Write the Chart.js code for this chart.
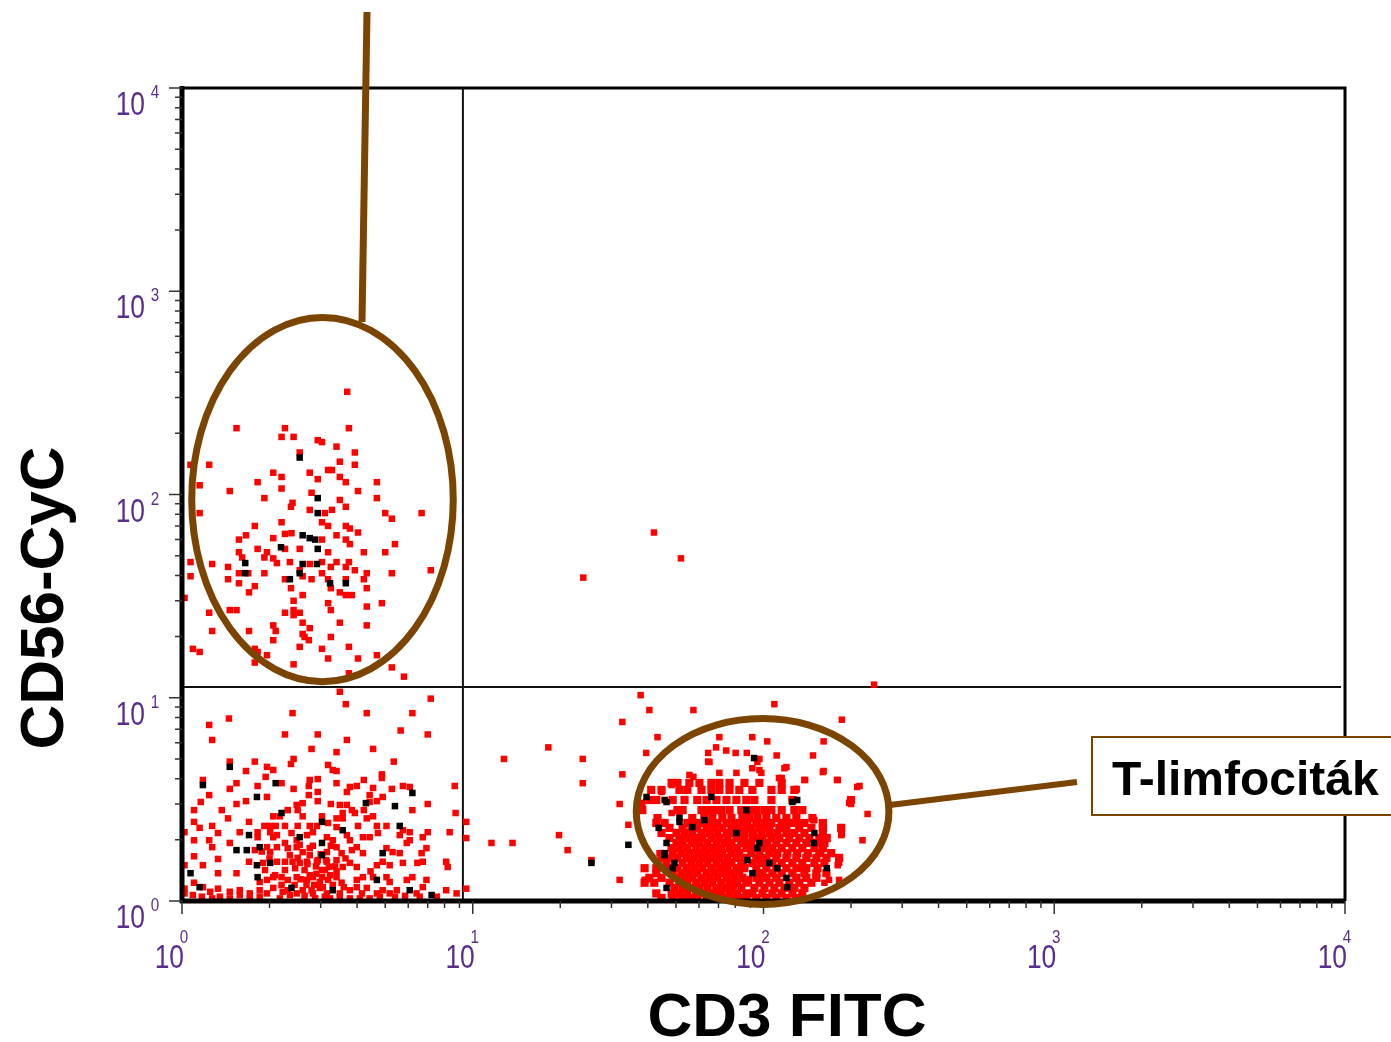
<!DOCTYPE html>
<html>
<head>
<meta charset="utf-8">
<script src="https://cdn.jsdelivr.net/npm/chart.js@4.4.1/dist/chart.umd.min.js"></script>
<style>
  html, body { margin: 0; padding: 0; background: #fff; }
  canvas { display: block; }
</style>
</head>
<body>
<canvas id="plot" width="1391" height="1042"></canvas>
<script>
// events: [CD3 FITC, CD56-CyC]
const nkCells = [
  [3.7,320],[1.54,212],[2.26,212],[3.75,212],[2.2,192],[2.42,192],[2.93,185],[3.03,181],[3.4,172],[3.93,161],
  [2.54,161],[3.49,145],[3.93,140],[1.24,140],[1.07,140],[2.06,128],[2.2,122],[2.75,128],[3.18,132],[3.28,132],
  [2.93,119],[3.49,122],[3.66,115],[4.68,115],[1.82,115],[1.15,111],[2.2,107],[1.46,104],[4.03,104],[2.79,102],
  [1.92,96],[4.68,96],[3.49,94],[2.4,91],[2.37,87],[2.75,84],[3.1,81],[3.28,84],[3.66,87],[1.15,81],
  [5.0,81],[5.27,76],[6.67,81],[3.03,73],[3.18,70],[2.2,73],[1.78,70],[3.66,70],[3.78,68],[4.03,65],
  [2.26,64],[2.38,64.5],[3.03,60],[2.06,61],[3.4,63],[1.66,63],[1.57,60],[3.66,60],[3.78,57],[2.26,54],
  [2.54,54],[3.18,52],[1.82,54],[1.96,52],[1.92,49],[1.57,52],[1.61,49],[4.22,52],[5.0,52],[5.4,57],
  [2.06,48.5],[2.12,46],[2.35,46.5],[2.75,45.5],[3.03,46.5],[3.4,46.5],[3.75,46.5],[1.07,46.5],[1.27,45.5],[1.44,44],
  [2.54,42.4],[3.25,44],[3.66,44],[3.93,42.4],[1.57,41],[1.69,41],[1.92,41],[2.6,39.6],[2.79,38.3],[3.03,41],
  [4.32,41],[4.22,38.3],[5.27,41],[7.17,42.4],[1.07,39.6],[1.44,38.3],[2.26,38.3],[3.18,38.3],[3.25,34.6],[3.66,38.3],
  [1.57,36.6],[1.78,35.4],[1.7,33],[2.37,34.6],[3.49,33],[3.66,32],[3.84,32],[4.32,34.6],[2.6,32],[1.02,31],
  [2.42,30],[3.18,29.2],[3.25,27],[4.87,29.2],[4.32,28.1],[1.24,26.2],[1.46,27],[1.54,27],[2.26,26.2],[2.42,27],
  [2.42,25.5],[2.54,26.2],[3.49,23.4],[2.6,23.4],[2.75,22],[2.06,22.7],[2.1,21.3],[4.32,22.7],[1.27,21.3],[1.7,21.3],
  [2.6,20.6],[2.64,19.9],[2.73,19.2],[3.25,19.9],[2.06,19.2],[2.54,17.8],[3.75,17.8],[1.09,17.4],[1.15,16.8],[1.78,17.4],
  [1.82,16.8],[3.03,17.4],[1.96,16.2],[3.18,15.6],[4.03,15.6],[4.68,16.2],[1.78,14.9],[2.42,14.6],[5.27,14.1],[3.75,13.2],
  [5.8,12.7]
];
const doublePos = [[42,65],[52,48.5],[24,39],[240,11.6]];
const doubleNeg = [
  [3.49,10.7],[3.66,9.3],[7.17,9.9],[2.4,8.4],[4.32,8.4],[6.2,8.4],[1.24,7.35],[1.45,7.9],[1.27,6.2],[2.26,6.6],
  [2.93,6.6],[3.69,6.2],[5.65,6.9],[7.0,6.6],[2.79,5.6],[3.4,5.4],[4.54,5.6],[1.46,4.85],[1.78,4.85],[2.42,5.0],
  [2.37,4.72],[3.18,4.67],[3.3,4.41],[3.4,4.36],[5.35,4.85],[1.66,4.36],[1.96,4.57],[2.06,4.41],[1.18,3.94],[1.54,3.8],
  [1.94,4.08],[2.2,3.8],[2.75,3.94],[2.93,3.98],[2.73,3.68],[3.4,3.8],[4.22,3.94],[4.87,4.2],[4.87,4.03],[1.82,3.68],
  [1.46,3.56],[1.24,3.32],[2.42,3.56],[2.93,3.44],[3.78,3.64],[3.99,3.68],[3.69,3.44],[4.54,3.6],[5.27,3.56],[5.75,3.68],
  [6.07,3.64],[8.67,3.68],[1.96,3.25],[2.73,3.32],[4.42,3.32],[4.9,3.25],[1.16,3.07],[1.54,3.0],[1.66,3.1],[2.48,2.97],
  [2.6,3.03],[2.93,3.1],[3.25,3.0],[3.49,2.97],[3.69,2.97],[4.42,3.07],[4.68,3.1],[7.0,3.0],[1.1,2.8],[1.37,2.8],
  [2.31,2.8],[2.5,2.8],[3.57,2.71],[3.84,2.8],[3.93,2.71],[4.22,2.8],[6.2,2.8],[8.73,2.71],[1.44,2.55],[2.06,2.61],
  [2.17,2.61],[2.6,2.61],[3.03,2.61],[3.4,2.55],[3.57,2.55],[4.32,2.55],[4.54,2.61],[1.1,2.45],[1.7,2.45],[1.92,2.34],
  [2.01,2.34],[2.1,2.34],[2.26,2.34],[2.5,2.34],[2.75,2.34],[2.91,2.34],[3.18,2.42],[3.4,2.31],[4.03,2.34],[4.68,2.34],
  [5.05,2.34],[5.75,2.23],[1.15,2.29],[1.27,2.34],[1.33,2.16],[1.58,2.18],[1.82,2.18],[1.82,2.06],[2.01,2.18],[2.06,2.06],
  [2.12,2.11],[2.38,2.16],[2.48,1.99],[2.69,2.11],[2.82,2.18],[3.15,2.06],[3.3,1.99],[3.69,2.11],[3.78,1.99],[4.19,2.06],
  [4.42,2.06],[4.72,2.16],[5.61,2.11],[6.07,2.18],[6.07,1.99],[6.73,2.06],[7.0,2.18],[8.33,2.18],[1.02,2.18],[1.1,1.99],
  [1.24,1.99],[1.46,1.93],[1.78,1.78],[1.96,1.84],[2.01,1.74],[2.12,1.84],[2.26,1.93],[2.31,1.82],[2.48,1.84],[2.6,1.74],
  [2.75,1.82],[3.15,1.74],[3.4,1.84],[3.54,1.72],[3.84,1.78],[3.99,1.84],[4.19,1.72],[5.05,1.82],[5.3,1.74],[6.67,1.72],
  [6.93,1.82],[5.93,1.93],[5.61,1.72],[1.27,1.84],[1.1,1.66],[1.33,1.61],[1.7,1.56],[1.9,1.54],[2.12,1.56],[2.26,1.56],
  [2.4,1.56],[2.54,1.54],[2.69,1.56],[2.91,1.56],[3.15,1.56],[3.4,1.59],[3.57,1.47],[3.78,1.54],[3.99,1.47],[4.68,1.5],
  [4.9,1.56],[5.18,1.5],[5.75,1.54],[6.45,1.54],[6.73,1.56],[8.1,1.56],[8.2,1.47],[1.02,1.5],[1.18,1.5],[1.54,1.37],
  [1.33,1.37],[1.85,1.24],[1.96,1.27],[2.06,1.31],[2.2,1.31],[2.31,1.27],[2.48,1.31],[2.69,1.27],[2.82,1.31],[3.03,1.31],
  [3.18,1.27],[3.4,1.31],[3.54,1.23],[3.99,1.27],[4.19,1.31],[4.54,1.31],[5.05,1.31],[5.18,1.24],[5.93,1.27],[6.2,1.31],
  [6.93,1.27],[1.1,1.23],[1.02,1.15],[1.18,1.17],[1.25,1.11],[1.33,1.15],[1.46,1.11],[1.58,1.07],[1.71,1.09],[1.85,1.13],
  [1.96,1.09],[2.06,1.16],[2.22,1.11],[2.48,1.09],[2.6,1.13],[2.82,1.09],[2.98,1.16],[3.15,1.09],[3.49,1.09],[3.78,1.13],
  [3.99,1.17],[4.16,1.09],[4.32,1.16],[4.68,1.09],[4.9,1.13],[5.18,1.09],[5.48,1.13],[6.41,1.09],[6.73,1.17],[7.52,1.05],
  [8.1,1.13],[8.8,1.09],[1.02,1.09],[1.09,1.07],[1.17,1.05],[2.54,1.89],[2.75,1.68],[2.93,1.59],[3.1,1.42],[3.23,1.34],
  [2.98,1.24],[2.79,1.13],[2.64,1.06],[2.44,1.2],[2.26,1.42],[2.09,1.34],[1.93,1.42],[2.35,1.07],[2.17,1.03],[2.87,1.03],
  [3.23,1.03],[3.49,1.05],[3.1,1.05],[2.64,1.42],[2.75,1.34],[2.89,1.48],[3.03,1.42],[3.36,1.48],[3.13,1.59],[2.5,1.63],
  [2.31,1.13],[3.78,1.03],[4.09,1.03],[4.42,1.03],[4.79,1.05],[5.4,1.05],[5.85,1.06],[6.57,1.05],[1.71,1.03],[1.58,1.13],
  [1.85,1.05],[1.46,1.03],[1.35,1.05],[1.27,1.03],
  [2.85,1.2],[3.05,1.17],[3.3,1.2],[2.68,1.2],[2.56,1.28],[2.9,1.36],[3.2,1.47],[2.45,1.45],[2.2,1.2],[3.6,1.17],
  [3.4,1.4],[2.7,1.52],[3.0,1.7],[2.82,1.87],[3.25,1.87],[2.35,1.68],[2.0,1.62],[1.88,1.75],[3.65,1.62],[4.45,1.4]
];
const tSparse = [
  [9.5,2.45],[9.5,2.04],[9.5,1.15],[11.6,1.93],[13.7,1.93],[12.8,5.0],[18.2,5.7],[19.8,2.11],[21.2,1.78],[23.9,5.0],
  [23.9,3.8],[25.6,1.59],[32,1.27],[32,3.0],[32.7,4.2],[32.7,7.6],[37.8,10.3],[40.5,8.7],[43.2,6.4],[39.5,5.35],
  [34.3,2.37],[39.5,1.27],[57.4,8.7],[109,9.3],[186,7.8],[161,6.1],[148,5.2],[161,4.36],[180,3.94],[214,3.68],
  [200,3.0],[228,2.68],[186,2.13],[219,1.99],[180,1.5],[70.5,6.4],[91.5,6.4],[103,6.1],[64.5,5.35],[68.7,5.7],
  [74.4,5.5],[80.2,5.35],[87.6,5.35],[96.8,5.0],[111,5.2],[64.5,4.85],[57.4,4.08],[91.5,4.5],[96.8,4.41],[118,4.5],
  [113,4.03],[139,3.94],[130,3.56],[148,2.5],[161,2.29],[159,1.93],[158,1.72],[135,1.45],[168,1.27],[162,1.23],
  [182,1.27],[95.3,4.83],[119.9,4.56],[98.3,4.27],[160,4.31],[115.5,4.03],[138.2,3.94],[179,3.94],[210,3.64],[129.7,3.52],
  [149.6,2.5],[185,2.11],[182,1.54],[197,3.04],[136,1.45],[55.6,4.17],[65.2,4.83],[70.5,4.27],[80.7,4.27],[48.3,3.72],
  [44.6,3.44],[38.3,3.04],[51.4,2.74],[39,1.27],[43.9,1.72],[46.7,1.47],[48.3,2.71]
];
const tCore = [
  [48.3,3.81],[50.6,3.81],[55.6,3.81],[60.2,3.81],[66.2,3.81],[70.5,3.81],[76.4,3.81],[86,3.81],[96.8,3.81],[115.5,3.81],
  [41.1,3.52],[44.6,3.52],[51.4,3.52],[54.7,3.52],[61.2,3.52],[66.2,3.52],[70.5,3.52],[76.4,3.52],[82.6,3.52],[91.6,3.52],[106.5,3.52],[115.5,3.52],[127.7,3.52],
  [40.5,3.14],[42.8,3.14],[48.7,3.14],[53.5,3.14],[59.2,3.14],[63.7,3.14],[68.9,3.14],[74.6,3.14],[80.7,3.14],[87.3,3.14],[93,3.14],[106.5,3.14],[125.7,3.14],[200,3.14],
  [38.3,2.8],[50.6,2.8],[52.7,2.8],[61.2,2.8],[64.2,2.8],[67.8,2.8],[71.6,2.8],[76.4,2.8],[83.9,2.8],[89.4,2.8],[94.5,2.8],[100.7,2.8],[106.5,2.8],[115.5,2.8],[127.7,2.8],[136,2.8],
  [43.2,2.56],[56.9,2.56],[62.6,2.56],[66.7,2.56],[72.2,2.56],[77.6,2.56],[84.6,2.56],[89.4,2.56],[95.3,2.56],[102.3,2.56],[110.7,2.56],[119.9,2.56],[129.7,2.56],[147.3,2.56],
  [42.8,2.42],[45.7,2.42],[54.7,2.42],[57.8,2.42],[61.2,2.42],[65.2,2.42],[69.4,2.42],[74.6,2.42],[79.4,2.42],[83.9,2.42],[88,2.42],[94.5,2.42],[100.7,2.42],[106.5,2.42],[115.5,2.42],[122.7,2.42],[130.6,2.42],[138.2,2.42],[160,2.42],
  [47.5,2.29],[52.7,2.29],[56.5,2.29],[59.2,2.29],[63.7,2.29],[67.8,2.29],[72.2,2.29],[77.6,2.29],[82.6,2.29],[87.3,2.29],[90.8,2.29],[96.8,2.29],[104.8,2.29],[113.4,2.29],[119.9,2.29],[132.8,2.29],[146.1,2.29],[160,2.29],[185,2.29],
  [44.6,2.16],[50.2,2.16],[53.5,2.16],[56.9,2.16],[61.2,2.16],[65.2,2.16],[69.4,2.16],[74.6,2.16],[77.6,2.16],[83.9,2.16],[86,2.16],[91.6,2.16],[98.3,2.16],[104.8,2.16],[111.6,2.16],[119.9,2.16],[127.7,2.16],[138.2,2.16],[160,2.16],
  [47.5,2.04],[51.4,2.04],[54.3,2.04],[57.8,2.04],[61.6,2.04],[66.2,2.04],[70.5,2.04],[75.2,2.04],[80.7,2.04],[86,2.04],[93,2.04],[99.2,2.04],[106.5,2.04],[113.4,2.04],[122.7,2.04],[132.8,2.04],[143.8,2.04],[155.6,2.04],[165,2.04],
  [50.2,1.93],[52.7,1.93],[56.5,1.93],[60.2,1.93],[64.2,1.93],[68.9,1.93],[73.4,1.93],[77.6,1.93],[83.9,1.93],[90.8,1.93],[103.1,1.93],[110.7,1.93],[119.9,1.93],[129.7,1.93],[140.4,1.93],[152,1.93],[162,1.93],
  [48.3,1.82],[51.4,1.82],[54.7,1.82],[58.7,1.82],[62.6,1.82],[66.7,1.82],[71.6,1.82],[76.4,1.82],[81.3,1.82],[87.3,1.82],[93,1.82],[100.7,1.82],[107.3,1.82],[115.5,1.82],[125.7,1.82],[136,1.82],[149.6,1.82],[160,1.82],
  [48.7,1.72],[52.2,1.72],[55.6,1.72],[59.2,1.72],[63.7,1.72],[67.8,1.72],[72.2,1.72],[77.6,1.72],[82.6,1.72],[90.8,1.72],[96.8,1.72],[104.8,1.72],[111.6,1.72],[120.8,1.72],[130.6,1.72],[142,1.72],[155.6,1.72],[171,1.72],
  [44.6,1.63],[47.5,1.63],[50.6,1.63],[54.3,1.63],[57.8,1.63],[61.6,1.63],[66.2,1.63],[70.5,1.63],[75.2,1.63],[80.7,1.63],[86,1.63],[94.5,1.63],[102.3,1.63],[110.7,1.63],[119.9,1.63],[129.7,1.63],[140.4,1.63],[152,1.63],[164.6,1.63],[182,1.63],
  [46.4,1.54],[52.7,1.54],[56.5,1.54],[60.2,1.54],[64.2,1.54],[68.9,1.54],[73.4,1.54],[77.6,1.54],[83.9,1.54],[91.6,1.54],[99.2,1.54],[107.3,1.54],[115.5,1.54],[125.7,1.54],[136,1.54],[149.6,1.54],[162,1.54],
  [39,1.45],[42.8,1.45],[47.5,1.45],[50.6,1.45],[54.3,1.45],[57.8,1.45],[61.6,1.45],[66.2,1.45],[70.5,1.45],[75.2,1.45],[80.7,1.45],[86,1.45],[94.5,1.45],[102.3,1.45],[110.7,1.45],[119.9,1.45],[129.7,1.45],[140.4,1.45],[153.3,1.45],
  [42.8,1.37],[48.7,1.37],[52.2,1.37],[55.6,1.37],[59.2,1.37],[63.7,1.37],[67.8,1.37],[72.2,1.37],[77.6,1.37],[82.6,1.37],[99.2,1.37],[107.3,1.37],[115.5,1.37],[125.7,1.37],[138.2,1.37],[152,1.37],[164.6,1.37],
  [40.5,1.3],[44.6,1.3],[50.2,1.3],[53.5,1.3],[56.9,1.3],[61.2,1.3],[65.2,1.3],[69.4,1.3],[74.6,1.3],[79.4,1.3],[84.6,1.3],[94.5,1.3],[102.3,1.3],[110.7,1.3],[129.7,1.3],[140.4,1.3],[152,1.3],
  [39,1.23],[42.1,1.23],[47.5,1.23],[51.4,1.23],[54.7,1.23],[58.7,1.23],[62.6,1.23],[66.7,1.23],[71.6,1.23],[76.4,1.23],[81.3,1.23],[87.3,1.23],[96.8,1.23],[104.8,1.23],[113.4,1.23],[122.7,1.23],[132.8,1.23],[146.1,1.23],
  [49.4,1.16],[52.7,1.16],[56.5,1.16],[60.2,1.16],[64.2,1.16],[68.9,1.16],[73.4,1.16],[77.6,1.16],[83.9,1.16],[93,1.16],[100.7,1.16],[109,1.16],[118,1.16],[127.7,1.16],[138.2,1.16],
  [42.8,1.09],[48.3,1.09],[51.4,1.09],[54.7,1.09],[58.7,1.09],[62.6,1.09],[66.7,1.09],[71.6,1.09],[76.4,1.09],[81.3,1.09],[87.3,1.09],[91.6,1.09],[99.2,1.09],[107.3,1.09],[115.5,1.09],[125.7,1.09],[136,1.09],
  [44.6,1.035],[48.7,1.035],[52.2,1.035],[55.6,1.035],[59.2,1.035],[63.7,1.035],[67.8,1.035],[72.2,1.035],[77.6,1.035],[82.6,1.035],[87.3,1.035],[94.5,1.035],[102.3,1.035],[110.7,1.035],[119.9,1.035],[129.7,1.035],
  [69,1.12],[78.5,1.2],[88.5,1.27],[96,1.34],[74,1.41],[85,1.5],[97.5,1.59],[63,1.67],[71,1.77],[88,1.88],[98,1.99],[59,1.99],[92,2.1],[80,2.22],[101,2.35]
];
// overlapping events, drawn black
const blackEvents = [
  [2.54,152],[2.93,96],[2.93,81],[2.6,63],[2.75,61],[2.87,60],[2.19,55],[2.93,54],[1.65,46],[2.6,45.5],
  [2.91,45.5],[2.54,41],[1.65,41],[2.35,38.3],[3.23,36.6],[3.66,36.6],
  [1.46,4.57],[1.18,3.72],[2.1,3.8],[6.2,3.4],[1.81,3.25],[4.29,3.03],[5.4,2.93],[2.2,2.71],[3.03,2.45],[3.57,2.23],
  [5.61,2.34],[1.7,2.11],[2.54,2.06],[1.54,1.78],[1.67,1.78],[1.85,1.84],[3.03,1.93],[3.03,1.68],[4.9,1.72],[1.81,1.5],
  [2.01,1.54],[1.07,1.37],[1.82,1.31],[4.68,1.27],[1.15,1.17],[2.38,1.16],[3.3,1.13],[6.07,1.13],[7.22,1.07],
  [25.6,1.54],[34.3,1.89],[92.8,5.05],[149,1.93],[39.6,3.25],[46.4,3.07],[43.6,2.29],[45.7,1.68],[48.7,1.45],[56.9,2.31],
  [80.7,2.16],[87.3,2.8],[95.3,1.82],[104.8,1.54],[111.6,1.45],[120.8,1.17],[125.7,3.07],[91.6,1.37],[88,1.59],[66.2,3.25],
  [62.6,2.5],[51.4,2.45],[45.7,3.14],[130.6,3.14],[51.4,2.56],[149.6,2.16],[46.4,1.93],[96.8,1.93],[45.7,1.72],[49.4,1.54],
  [165,1.45],[119.9,1.3],[46.4,1.16]
];

const decades = [1, 10, 100, 1000, 10000];
const quadCut = { x: 9.25, y: 11.3 };
const nkGate = { xMin: 1.08, xMax: 8.57, yMin: 12.0, yMax: 743 };
const tGate = { xMin: 36.5, xMax: 270, yMin: 0.961, yMax: 7.9 };

const BROWN = '#7b4501';
const TICK_TXT = '#5a2e8e';

function toPts(arr) { return arr.map(p => ({ x: p[0], y: p[1] })) }

function powLabel(ctx, xRight, base, exp, ex, ey) {
  ctx.save()
  ctx.fillStyle = TICK_TXT
  ctx.font = '33px "Liberation Sans", Arial, sans-serif'
  ctx.textAlign = 'right'
  ctx.textBaseline = 'alphabetic'
  ctx.translate(xRight, base)
  ctx.scale(0.8, 1)
  ctx.fillText('10', 0, 0)
  ctx.restore()
  ctx.save()
  ctx.fillStyle = TICK_TXT
  ctx.font = '19px "Liberation Sans", Arial, sans-serif'
  ctx.textAlign = 'center'
  ctx.translate(ex, ey)
  ctx.scale(0.8, 1)
  ctx.fillText(String(exp), 0, 0)
  ctx.restore()
}

function gateEllipse(ctx, xs, ys, g) {
  const l = xs.getPixelForValue(g.xMin), r = xs.getPixelForValue(g.xMax)
  const t = ys.getPixelForValue(g.yMax), b = ys.getPixelForValue(g.yMin)
  ctx.beginPath()
  ctx.ellipse((l + r) / 2, (t + b) / 2, (r - l) / 2, (b - t) / 2, 0, 0, Math.PI * 2)
  ctx.stroke()
}

const overlay = {
  id: 'overlay',
  beforeDatasetsDraw(chart) {
    const { ctx, chartArea: a, scales: { x, y } } = chart
    ctx.save()
    ctx.strokeStyle = '#111'
    ctx.lineWidth = 2
    const qx = x.getPixelForValue(quadCut.x), qy = y.getPixelForValue(quadCut.y)
    ctx.beginPath()
    ctx.moveTo(qx, a.top); ctx.lineTo(qx, a.bottom)
    ctx.moveTo(a.left, qy); ctx.lineTo(a.right - 4, qy)
    ctx.stroke()
    ctx.restore()
  },
  afterDatasetsDraw(chart) {
    const { ctx, chartArea: a, scales: { x, y } } = chart
    ctx.save()

    // frame
    ctx.strokeStyle = '#000'
    ctx.lineWidth = 3
    ctx.beginPath()
    ctx.moveTo(a.left, a.top); ctx.lineTo(a.right, a.top); ctx.lineTo(a.right, a.bottom)
    ctx.stroke()
    ctx.lineWidth = 5
    ctx.beginPath()
    ctx.moveTo(a.left, a.top - 2); ctx.lineTo(a.left, a.bottom + 2)
    ctx.moveTo(a.left - 2, a.bottom); ctx.lineTo(a.right, a.bottom)
    ctx.stroke()

    // log ticks
    ctx.strokeStyle = '#333'
    ctx.lineWidth = 1.5
    ctx.beginPath()
    for (let d = 0; d < 4; d++) {
      for (let m = 1; m < 10; m++) {
        const v = m * decades[d]
        const len = m === 1 ? 13 : 7
        const px = x.getPixelForValue(v), py = y.getPixelForValue(v)
        ctx.moveTo(px, a.bottom); ctx.lineTo(px, a.bottom + len)
        ctx.moveTo(a.left, py); ctx.lineTo(a.left - len, py)
      }
    }
    ctx.moveTo(a.right, a.bottom); ctx.lineTo(a.right, a.bottom + 13)
    ctx.moveTo(a.left, a.top); ctx.lineTo(a.left - 13, a.top)
    ctx.stroke()

    // tick labels 10^n
    decades.forEach((v, i) => {
      const px = x.getPixelForValue(v)
      powLabel(ctx, px + 2, 968, i, px + 2, 943)
      const py = y.getPixelForValue(v)
      powLabel(ctx, 145, py + 27, i, 155, py + 10)
    })

    // gates
    ctx.strokeStyle = BROWN
    ctx.lineWidth = 7
    gateEllipse(ctx, x, y, nkGate)
    gateEllipse(ctx, x, y, tGate)

    // callout lines
    ctx.lineWidth = 7
    ctx.beginPath()
    ctx.moveTo(367, 12); ctx.lineTo(362, 322)
    ctx.stroke()
    ctx.lineWidth = 6
    ctx.beginPath()
    ctx.moveTo(890, 805); ctx.lineTo(1077, 782)
    ctx.stroke()

    // label box
    ctx.fillStyle = '#fff'
    ctx.fillRect(1092, 737, 310, 78)
    ctx.lineWidth = 2
    ctx.strokeRect(1092, 737, 310, 78)
    ctx.fillStyle = '#000'
    ctx.font = 'bold 48px "Liberation Sans", Arial, sans-serif'
    ctx.textAlign = 'left'
    ctx.fillText('T-limfociták', 1112, 795)

    // axis titles
    ctx.font = 'bold 62px "Liberation Sans", Arial, sans-serif'
    ctx.textAlign = 'center'
    ctx.fillText('CD3 FITC', 787, 1036)
    ctx.save()
    ctx.translate(63, 598)
    ctx.rotate(-Math.PI / 2)
    ctx.fillText('CD56-CyC', 0, 0)
    ctx.restore()

    ctx.restore()
  }
}

const dot = { pointStyle: 'rect', pointRadius: 4.6, pointHoverRadius: 4.6, borderWidth: 0 }
const denseDot = { pointStyle: 'rect', pointRadius: 5.8, pointHoverRadius: 5.8, borderWidth: 0 }

const chart = new Chart(document.getElementById('plot').getContext('2d'), {
  type: 'scatter',
  data: {
    datasets: [
      { label: 'black', data: toPts(blackEvents), backgroundColor: '#000', order: 0, ...dot },
      { label: 'NK', data: toPts(nkCells), backgroundColor: '#ff0000', order: 1, ...dot },
      { label: 'CD3+CD56+', data: toPts(doublePos), backgroundColor: '#ff0000', order: 1, ...dot },
      { label: 'CD3-CD56-', data: toPts(doubleNeg), backgroundColor: '#ff0000', order: 1, ...dot },
      { label: 'T sparse', data: toPts(tSparse), backgroundColor: '#ff0000', order: 1, ...dot },
      { label: 'T core', data: toPts(tCore), backgroundColor: '#ff0000', order: 1, ...denseDot }
    ]
  },
  options: {
    responsive: false,
    animation: false,
    events: [],
    layout: { padding: { left: 182, right: 46, top: 88, bottom: 141 } },
    plugins: { legend: { display: false }, tooltip: { enabled: false } },
    scales: {
      x: {
        type: 'logarithmic', min: 1, max: 10000,
        ticks: { display: false }, grid: { display: false }, border: { display: false },
        afterFit: s => { s.height = 0 }
      },
      y: {
        type: 'logarithmic', min: 1, max: 10000,
        ticks: { display: false }, grid: { display: false }, border: { display: false },
        afterFit: s => { s.width = 0 }
      }
    }
  },
  plugins: [overlay]
})
</script>
</body>
</html>
